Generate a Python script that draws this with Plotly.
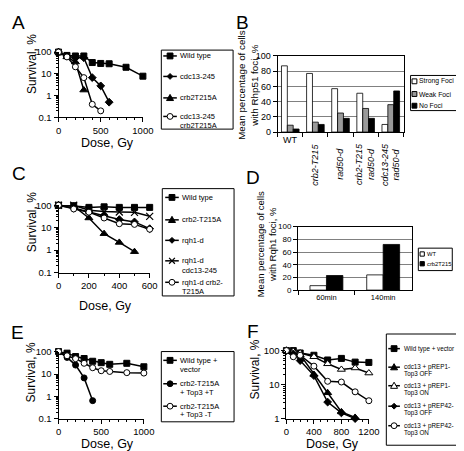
import plotly.graph_objects as go

W, H = 464, 451
FONT = "Liberation Sans, Arial, sans-serif"

# ---------------- DATA ----------------
# Panel A
a_wt_dose = [0, 100, 200, 300, 400, 500, 600, 800, 1000]
a_wt_surv = [100, 70, 66, 66, 33, 30, 29, 20, 7.8]
a_cdc_dose = [0, 100, 200, 300, 400, 500, 600]
a_cdc_surv = [100, 65, 55, 55, 6.7, 2.8, 0.5]
a_crb_dose = [0, 100, 200, 300]
a_crb_surv = [100, 60, 35, 1.8]
a_dbl_dose = [0, 100, 200, 300, 400, 500]
a_dbl_surv = [100, 60, 21, 6.7, 0.4, 0.2]
a_names = ["Wild type", "cdc13-245", "crb2T215A", "cdc13-245<br>crb2T215A"]

# Panel B
b_categories = ["WT", "crb2-T215", "rad50-d", "crb2-T215 rad50-d", "cdc13-245 rad50-d"]
b_labels = ["WT", "<i>crb2-T215</i>", "<i>rad50-d</i>",
            "<i>crb2-T215<br>rad50-d</i>", "<i>cdc13-245<br>rad50-d</i>"]
b_strong = [87, 77, 57, 51, 10]
b_weak = [9, 13, 25, 31, 36]
b_none = [4, 10, 18, 18, 54]
b_names = ["Strong Foci", "Weak Foci", "No Foci"]

# Panel C
c_dose = [0, 100, 200, 300, 400, 500, 600]
c_wt = [100, 95, 80, 85, 80, 80, 80]
c_crb_dose = [0, 100, 200, 300, 400, 500]
c_crb = [100, 90, 27, 5.4, 2.2, 0.85]
c_rqh = [100, 75, 50, 34, 23, 18, 9]
c_rqh_cdc = [100, 100, 60, 52, 50, 48, 32]
c_rqh_crb = [100, 68, 49, 27, 15, 14, 8.5]
c_names = ["Wild type", "crb2-T215A", "rqh1-d", "rqh1-d<br>cdc13-245", "rqh1-d crb2-<br>T215A"]

# Panel D
d_times = ["60min", "140min"]
d_wt = [7, 24]
d_crb = [23, 72]
d_names = ["WT", "crb2T215"]

# Panel E
e_dose = [0, 100, 200, 300, 400, 500, 600, 800, 1000]
e_wt = [100, 85, 60, 49, 37, 32, 27, 30, 21]
e_T_dose = [0, 100, 200, 300, 400]
e_T = [100, 55, 25, 6.7, 0.65]
e_noT = [100, 65, 48, 30, 19, 14, 13, 11.5, 11]
e_names = ["Wild type +<br>vector", "crb2-T215A<br>+ Top3 +T", "crb2-T215A<br>+ Top3 -T"]

# Panel F
f_dose = [0, 100, 200, 400, 600, 800, 1000, 1200]
f_short_dose = [0, 100, 200, 400, 600, 800, 1000]
f_wt = [100, 100, 85, 73, 53, 59, 46, 45]
f_rep1_off = [100, 90, 75, 20, 5.8, 1.6, 1.1]
f_rep1_on = [100, 95, 85, 66, 41, 28, 31, 22]
f_rep42_off = [100, 80, 51, 18.5, 3.1, 1.5, 1.02]
f_rep42_on = [100, 66, 73, 35, 12.6, 12, 6.2, 3.4]
f_names = ["Wild type + vector", "cdc13 + pREP1-<br>Top3 OFF", "cdc13 + pREP1-<br>Top3 ON",
           "cdc13 + pREP42-<br>Top3 OFF", "cdc13 + pREP42-<br>Top3 ON"]

# ---------------- HELPERS ----------------
def xd(a, b):
    return [a / W, b / W]

def yd(top, bottom):
    return [1 - bottom / H, 1 - top / H]

def px(x):
    return x / W

def py(y):
    return 1 - y / H

fig = go.Figure()
shapes = []
ann = []

MARKERS = {
    "square": dict(symbol="square", size=6, color="black", line=dict(color="black", width=1)),
    "diamond": dict(symbol="diamond", size=6, color="black", line=dict(color="black", width=1)),
    "triangle": dict(symbol="triangle-up", size=7, color="black", line=dict(color="black", width=1)),
    "otriangle": dict(symbol="triangle-up", size=7, color="white", line=dict(color="black", width=1)),
    "ocircle": dict(symbol="circle", size=6, color="white", line=dict(color="black", width=1)),
    "circle": dict(symbol="circle", size=6, color="black", line=dict(color="black", width=1)),
    "x": dict(symbol="x-thin", size=7, color="black", line=dict(color="black", width=1.2)),
}

def line_trace(x, y, name, kind, ax):
    fig.add_trace(go.Scatter(
        x=x, y=y, name=name.replace("<br>", " "), mode="lines+markers",
        line=dict(color="black", width=1.5), marker=MARKERS[kind],
        xaxis="x" + ax, yaxis="y" + ax, cliponaxis=False, showlegend=False))

# Panel A
a_kinds = ["square", "diamond", "triangle", "ocircle"]
line_trace(a_wt_dose, a_wt_surv, a_names[0], a_kinds[0], "")
line_trace(a_cdc_dose, a_cdc_surv, a_names[1], a_kinds[1], "")
line_trace(a_crb_dose, a_crb_surv, a_names[2], a_kinds[2], "")
line_trace(a_dbl_dose, a_dbl_surv, a_names[3], a_kinds[3], "")

# Panel B
b_colors = ["white", "#999999", "black"]
for vals, name, col in zip([b_strong, b_weak, b_none], b_names, b_colors):
    fig.add_trace(go.Bar(x=b_categories, y=vals, name=name,
                         marker=dict(color=col, line=dict(color="black", width=0.8)),
                         xaxis="x2", yaxis="y2", showlegend=False))

# Panel C
c_kinds = ["square", "triangle", "diamond", "x", "ocircle"]
line_trace(c_dose, c_wt, c_names[0], c_kinds[0], "3")
line_trace(c_crb_dose, c_crb, c_names[1], c_kinds[1], "3")
line_trace(c_dose, c_rqh, c_names[2], c_kinds[2], "3")
line_trace(c_dose, c_rqh_cdc, c_names[3], c_kinds[3], "3")
line_trace(c_dose, c_rqh_crb, c_names[4], c_kinds[4], "3")

# Panel D
d_colors = ["white", "black"]
for vals, name, col, off in zip([d_wt, d_crb], d_names, d_colors, [-0.29, 0.0]):
    fig.add_trace(go.Bar(x=d_times, y=vals, name=name, width=0.29, offset=off,
                         marker=dict(color=col, line=dict(color="black", width=0.8)),
                         xaxis="x4", yaxis="y4", showlegend=False))

# Panel E
e_kinds = ["square", "circle", "ocircle"]
line_trace(e_dose, e_wt, e_names[0], e_kinds[0], "5")
line_trace(e_T_dose, e_T, e_names[1], e_kinds[1], "5")
line_trace(e_dose, e_noT, e_names[2], e_kinds[2], "5")

# Panel F
f_kinds = ["square", "triangle", "otriangle", "diamond", "ocircle"]
line_trace(f_dose, f_wt, f_names[0], f_kinds[0], "6")
line_trace(f_short_dose, f_rep1_off, f_names[1], f_kinds[1], "6")
line_trace(f_dose, f_rep1_on, f_names[2], f_kinds[2], "6")
line_trace(f_short_dose, f_rep42_off, f_names[3], f_kinds[3], "6")
line_trace(f_dose, f_rep42_on, f_names[4], f_kinds[4], "6")

# ---------------- AXES ----------------
tickfont = dict(family=FONT, size=9.5, color="black")
minor_log = [m * 10 ** e for e in (-1, 0, 1) for m in range(2, 10)]

def surv_axes(n, xdom, ydom, xmax, xdtick, ylog_min):
    fig.update_layout(**{
        "xaxis" + n: dict(domain=xdom, range=[0, xmax], anchor="y" + n, showline=True,
                          linecolor="black", linewidth=1, ticks="outside", ticklen=4,
                          tickcolor="black", dtick=xdtick, tickfont=tickfont,
                          showgrid=False, zeroline=False,
                          minor=dict(dtick=100, ticks="outside", ticklen=2,
                                     tickcolor="black", showgrid=False)),
        "yaxis" + n: dict(domain=ydom, type="log", range=[ylog_min, 2], anchor="x" + n,
                          showline=True, linecolor="black", linewidth=1, ticks="outside",
                          ticklen=4, tickcolor="black",
                          tickvals=[0.1, 1, 10, 100], ticktext=["0.1", "1", "10", "100"],
                          tickfont=tickfont, showgrid=False, zeroline=False,
                          minor=dict(tickvals=minor_log, ticks="outside", ticklen=2,
                                     tickcolor="black", showgrid=False)),
    })

surv_axes("", xd(49, 136), yd(39, 106), 1000, 500, -1)
surv_axes("3", xd(49, 143), yd(196, 265), 600, 200, -1)
surv_axes("5", xd(49, 137), yd(346, 415), 1000, 500, -1)
surv_axes("6", xd(284, 369), yd(345, 415), 1200, 400, 0)

def bar_axes(n, xdom, ydom, showlabels, yfont):
    fig.update_layout(**{
        "xaxis" + n: dict(domain=xdom, anchor="y" + n, type="category",
                          showline=True, mirror=True, linecolor="black", linewidth=1,
                          ticks="outside", tickson="boundaries", ticklen=4,
                          tickcolor="black", showticklabels=showlabels,
                          tickfont=dict(family=FONT, size=7.5, color="black")),
        "yaxis" + n: dict(domain=ydom, anchor="x" + n, range=[0, 100], dtick=20,
                          showline=True, mirror=True, linecolor="black", linewidth=1,
                          ticks="outside", ticklen=4, tickcolor="black",
                          showgrid=True, gridcolor="#808080", gridwidth=1,
                          zeroline=False,
                          tickfont=dict(family=FONT, size=yfont, color="black")),
    })

bar_axes("2", xd(275, 405), yd(43, 121), False, 9)
bar_axes("4", xd(296, 413), yd(218, 283), True, 8)

# ---------------- LEGEND BOXES (drawn keys) ----------------
def key_glyph(xc, yc, kind, s=3.0):
    line = dict(color="black", width=1)
    fill = "white" if kind in ("ocircle", "otriangle") else "black"
    if kind == "square":
        shapes.append(dict(type="rect", xref="paper", yref="paper",
                           x0=px(xc - s), x1=px(xc + s), y0=py(yc + s), y1=py(yc - s),
                           fillcolor=fill, line=line))
    elif kind in ("circle", "ocircle"):
        shapes.append(dict(type="circle", xref="paper", yref="paper",
                           x0=px(xc - s), x1=px(xc + s), y0=py(yc + s), y1=py(yc - s),
                           fillcolor=fill, line=line))
    elif kind in ("triangle", "otriangle"):
        pts = [(xc, yc - s * 1.2), (xc + s * 1.2, yc + s * 0.9), (xc - s * 1.2, yc + s * 0.9)]
        path = "M " + " L ".join(f"{px(a)},{py(b)}" for a, b in pts) + " Z"
        shapes.append(dict(type="path", xref="paper", yref="paper", path=path,
                           fillcolor=fill, line=line))
    elif kind == "diamond":
        pts = [(xc, yc - s), (xc + s, yc), (xc, yc + s), (xc - s, yc)]
        path = "M " + " L ".join(f"{px(a)},{py(b)}" for a, b in pts) + " Z"
        shapes.append(dict(type="path", xref="paper", yref="paper", path=path,
                           fillcolor=fill, line=line))
    elif kind == "x":
        path = (f"M {px(xc - s)},{py(yc - s)} L {px(xc + s)},{py(yc + s)} "
                f"M {px(xc - s)},{py(yc + s)} L {px(xc + s)},{py(yc - s)}")
        shapes.append(dict(type="path", xref="paper", yref="paper", path=path,
                           line=dict(color="black", width=1.2)))

def legend_box(box, names, kinds, rows, key_x, key_half, text_x, fsize,
               bar=False, colors=None, sq=2.5):
    x0, y0, x1, y1 = box
    shapes.append(dict(type="rect", xref="paper", yref="paper",
                       x0=px(x0), x1=px(x1), y0=py(y1), y1=py(y0),
                       fillcolor="white", line=dict(color="black", width=1)))
    for i, (name, ys) in enumerate(zip(names, rows)):
        yk = ys[0]
        if bar:
            shapes.append(dict(type="rect", xref="paper", yref="paper",
                               x0=px(key_x - sq), x1=px(key_x + sq),
                               y0=py(yk + sq), y1=py(yk - sq),
                               fillcolor=colors[i], line=dict(color="black", width=1)))
        else:
            shapes.append(dict(type="line", xref="paper", yref="paper",
                               x0=px(key_x - key_half), x1=px(key_x + key_half),
                               y0=py(yk), y1=py(yk),
                               line=dict(color="black", width=1.5)))
            key_glyph(key_x, yk, kinds[i])
        for part, yy in zip(name.split("<br>"), ys):
            ann.append(dict(text=part, x=px(text_x), y=py(yy), xref="paper", yref="paper",
                            showarrow=False, xanchor="left", yanchor="middle",
                            font=dict(family=FONT, size=fsize, color="black")))

legend_box((155, 37, 229, 118), a_names, a_kinds,
           [[43], [64], [86], [105, 114]], 164, 7, 172, 7.5)
legend_box((156, 179, 230, 289), c_names, c_kinds,
           [[188], [211], [232], [253, 263], [275, 284]], 166, 7, 174, 7.5)
legend_box((155, 346, 230, 418), e_names, e_kinds,
           [[355, 364], [379, 388], [402, 411]], 164, 7, 172, 7.5)
legend_box((387, 328, 463.5, 442), f_names, f_kinds,
           [[343], [362, 369], [381, 388], [402, 409], [422, 429]], 395, 6, 403, 6.3)
legend_box((412, 63, 463, 99), b_names, None,
           [[69], [82], [94]], 416, 0, 418.5, 6.8, bar=True, colors=b_colors, sq=2.5)
legend_box((420, 240, 455, 263), d_names, None,
           [[246], [256]], 424, 0, 426.5, 5.8, bar=True, colors=d_colors, sq=2.2)

# ---------------- ANNOTATIONS ----------------
for letter, (x, y) in zip("ABCDEF", [(8, 9), (239, 9), (8, 163), (250, 168), (7, 326), (250, 325)]):
    ann.append(dict(text=letter, x=px(x), y=py(y), xref="paper", yref="paper",
                    showarrow=False, xanchor="center", yanchor="middle",
                    font=dict(family=FONT, size=19, color="black")))

for (x, y) in [(21, 51), (21, 213), (21, 367), (252, 364)]:
    ann.append(dict(text="Survival, %", x=px(x), y=py(y), xref="paper", yref="paper",
                    showarrow=False, textangle=-90, xanchor="center", yanchor="middle",
                    font=dict(family=FONT, size=12, color="black")))

for (x, y) in [(100, 132), (97, 299), (100, 441), (332, 441)]:
    ann.append(dict(text="Dose, Gy", x=px(x), y=py(y), xref="paper", yref="paper",
                    showarrow=False, xanchor="center", yanchor="middle",
                    font=dict(family=FONT, size=12.5, color="black")))

ann.append(dict(text="Mean percentage of cells<br>with Rhp51 foci, %", x=px(245), y=py(73),
                xref="paper", yref="paper", showarrow=False, textangle=-90,
                xanchor="center", yanchor="middle",
                font=dict(family=FONT, size=9.8, color="black")))
ann.append(dict(text="Mean percentage of cells<br>with Rqh1 foci, %", x=px(263), y=py(236),
                xref="paper", yref="paper", showarrow=False, textangle=-90,
                xanchor="center", yanchor="middle",
                font=dict(family=FONT, size=9.5, color="black")))

for cat, lab in zip(b_categories, b_labels):
    if cat == "WT":
        ann.append(dict(text=lab, x=cat, y=py(129), xref="x2", yref="paper",
                        showarrow=False, xanchor="center", yanchor="middle",
                        font=dict(family=FONT, size=9, color="black")))
    else:
        ann.append(dict(text=lab, x=cat, y=py(154), xref="x2", yref="paper",
                        showarrow=False, textangle=-90, xanchor="center",
                        yanchor="middle", align="center",
                        font=dict(family=FONT, size=9, color="black")))

fig.update_layout(
    annotations=ann,
    shapes=shapes,
    width=W, height=H,
    margin=dict(l=0, r=0, t=0, b=0),
    paper_bgcolor="white", plot_bgcolor="white",
    barmode="group", bargap=0.3, bargroupgap=0,
    font=dict(family=FONT, color="black"),
    showlegend=False,
)

fig.write_html("out.html")
